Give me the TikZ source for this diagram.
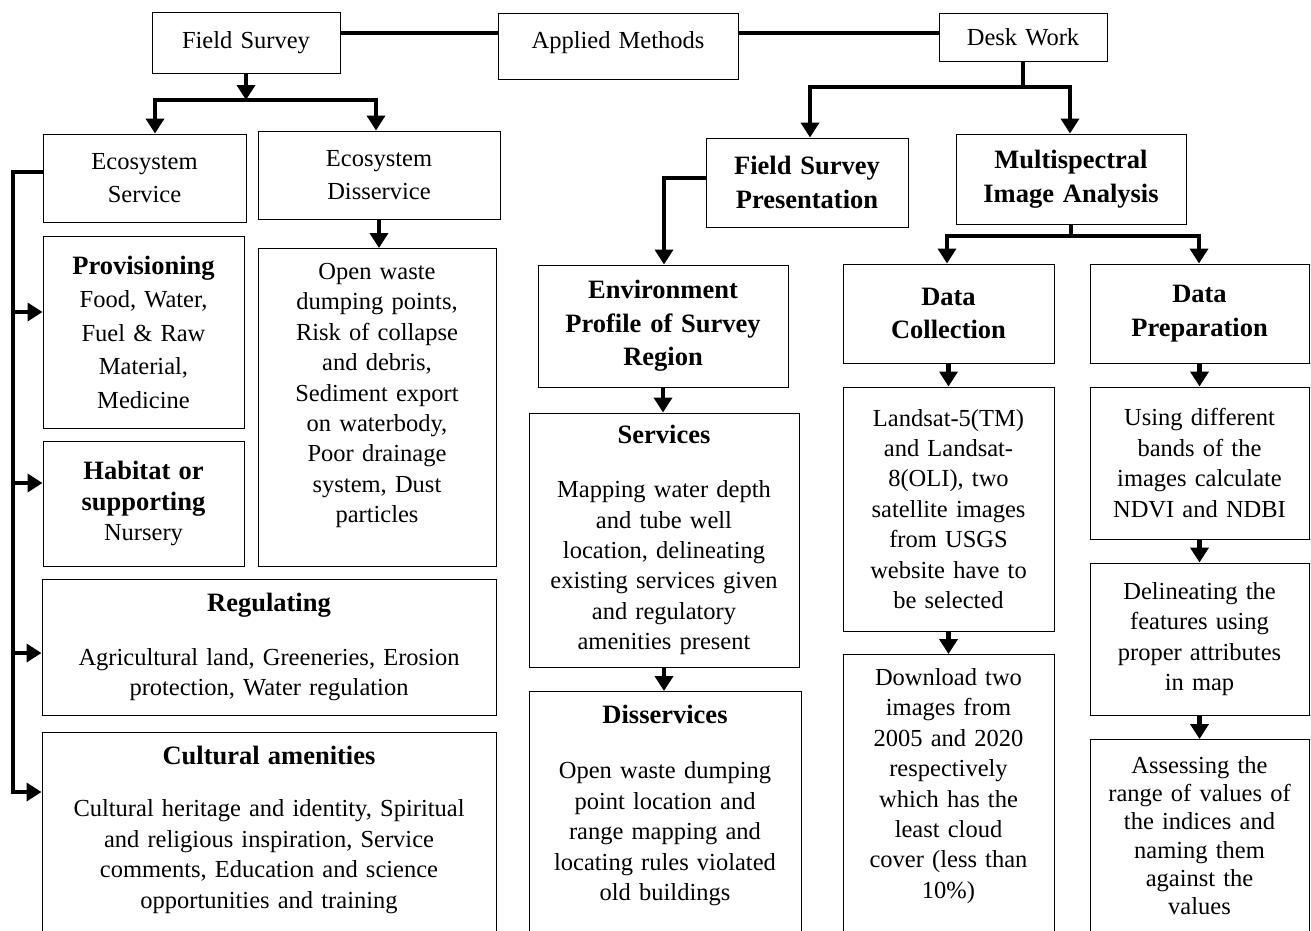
\documentclass[tikz,border=0pt]{standalone}
\usepackage{fontspec}
\setmainfont{Liberation Serif}
\usetikzlibrary{arrows.meta}

\newcommand\bodyfont{\fontsize{24.5}{30.4}\selectfont}
\newcommand\headfont{\fontsize{26.5}{33.5}\selectfont\bfseries}
\newcommand\boxhead[1]{{\fontsize{26.5}{30.4}\selectfont\bfseries #1}}

\begin{document}
\begin{tikzpicture}[x=1pt, y=-1pt,
    >={Triangle[length=15pt,width=18pt]},
    box/.style={draw, line width=1pt, align=center, inner xsep=0pt, inner ysep=0pt, font=\bodyfont},
    wd/.style={minimum width=#1, text width=#1},
    topbox/.style={box, anchor=north, text height=17pt},
    link/.style={line width=4.5pt}]

  \useasboundingbox (0,0) rectangle (1311,930);
  \clip (0,0) rectangle (1311,930);

  % top row
  \node[box, wd=188pt, minimum height=61pt] (fieldsurvey) at (246,42.5) {Field Survey};
  \node[box, wd=240pt, minimum height=66pt, text depth=12pt] (applied) at (618,46) {Applied Methods};
  \node[box, wd=168pt, minimum height=48pt] (desk) at (1023,37) {Desk Work};

  % field survey side
  \node[box, wd=203pt, minimum height=88pt, font=\fontsize{24.5}{33.5}\selectfont] (ecoserv) at (144.5,178) {Ecosystem\\Service};
  \node[box, wd=242pt, minimum height=88pt, font=\fontsize{24.5}{33.5}\selectfont] (ecodis) at (379,175) {Ecosystem\\Disservice};
  \node[box, wd=201pt, minimum height=192pt, font=\fontsize{24.5}{33.5}\selectfont] (prov) at (143.5,332)
    {\boxhead{Provisioning}\\Food, Water,\\Fuel \& Raw\\Material,\\Medicine};
  \node[box, wd=201pt, minimum height=125pt] (habitat) at (143.5,503.5)
    {\boxhead{Habitat or}\\\boxhead{supporting}\\Nursery};
  \node[topbox, wd=238pt, inner ysep=14pt, text depth=273pt] (disstext) at (377,248)
    {Open waste\\dumping points,\\Risk of collapse\\and debris,\\Sediment export\\on waterbody,\\Poor drainage\\system, Dust\\particles};
  \node[box, wd=454pt, minimum height=136pt] (regul) at (269,647)
    {\boxhead{Regulating}\\[23pt]Agricultural land, Greeneries, Erosion\\protection, Water regulation};
  \node[topbox, wd=454pt, inner ysep=15pt, text depth=300pt] (cultural) at (269,732)
    {\boxhead{Cultural amenities}\\[22pt]Cultural heritage and identity, Spiritual\\and religious inspiration, Service\\comments, Education and science\\opportunities and training};

  % desk work side
  \node[box, wd=202pt, minimum height=89pt, font=\headfont] (fsp) at (807,182.5) {Field Survey\\Presentation};
  \node[box, wd=230pt, minimum height=90pt, font=\headfont] (mia) at (1071,179) {Multispectral\\Image Analysis};
  \node[box, wd=250pt, minimum height=122pt, font=\headfont] (env) at (663,326) {Environment\\Profile of Survey\\Region};
  \node[box, wd=270pt, minimum height=254pt] (serv) at (664,540)
    {\boxhead{Services}\\[24pt]Mapping water depth\\and tube well\\location, delineating\\existing services given\\and regulatory\\amenities present};
  \node[topbox, wd=272pt, inner ysep=15pt, text depth=300pt] (disserv) at (665,691)
    {\boxhead{Disservices}\\[25pt]Open waste dumping\\point location and\\range mapping and\\locating rules violated\\old buildings};

  \node[box, wd=211pt, minimum height=99pt, font=\headfont] (dc) at (948.5,313.5) {Data\\Collection};
  \node[box, wd=211pt, minimum height=244pt] (dctext) at (948.5,509)
    {Landsat-5(TM)\\and Landsat-\\8(OLI), two\\satellite images\\from USGS\\website have to\\be selected};
  \node[topbox, wd=211pt, inner ysep=14pt, text depth=300pt] (dctext2) at (948.5,654)
    {Download two\\images from\\2005 and 2020\\respectively\\which has the\\least cloud\\cover (less than\\10\%)};

  \node[box, wd=219pt, minimum height=99pt, font=\headfont] (dp) at (1199.5,313.5) {Data\\Preparation};
  \node[box, wd=219pt, minimum height=152pt] (dptext) at (1199.5,463)
    {Using different\\bands of the\\images calculate\\NDVI and NDBI};
  \node[box, wd=219pt, minimum height=152pt] (dptext2) at (1199.5,639)
    {Delineating the\\features using\\proper attributes\\in map};
  \node[topbox, wd=219pt, inner ysep=17pt, text depth=300pt, font=\fontsize{24.5}{28.2}\selectfont] (dptext3) at (1199.5,739)
    {Assessing the\\range of values of\\the indices and\\naming them\\against the\\values};

  % connectors
  \coordinate (lvl) at (0,33);
  \draw[link] (fieldsurvey.east |- lvl) -- (applied.west |- lvl);
  \draw[link] (applied.east |- lvl) -- (desk.west |- lvl);

  \coordinate (fsbar) at (246,100);
  \coordinate (fsl) at (155,100);
  \coordinate (fsr) at (376,100);
  \draw[->, link] (fieldsurvey.south) -- (fsbar);
  \draw[<->, link] (fsl |- ecoserv.north) -- (fsl) -- (fsr) -- (fsr |- ecodis.north);

  \coordinate (bus) at (13,172);
  \coordinate (busend) at (13,792);
  \draw[->, link] (ecoserv.west |- bus) -- (bus) -- (busend) -- (busend -| cultural.west);
  \foreach \b/\yy in {prov/312, habitat/483, regul/653} {
    \coordinate (tap) at (13,\yy);
    \draw[->, link] (tap) -- (tap -| \b.west);
  }

  \coordinate (dwl) at (810,87);
  \coordinate (dwr) at (1070,87);
  \draw[link] (desk.south) -- (desk.south |- dwl);
  \draw[<->, link] (dwl |- fsp.north) -- (dwl) -- (dwr) -- (dwr |- mia.north);

  \coordinate (fspl) at (664,178);
  \draw[->, link] (fsp.west |- fspl) -- (fspl) -- (fspl |- env.north);

  \coordinate (mial) at (947,236);
  \coordinate (miar) at (1199,236);
  \draw[link] (mia.south) -- (mia.south |- mial);
  \draw[<->, link] (mial |- dc.north) -- (mial) -- (miar) -- (miar |- dp.north);

  \foreach \a/\b in {ecodis/disstext, env/serv, serv/disserv, dc/dctext, dctext/dctext2,
                     dp/dptext, dptext/dptext2, dptext2/dptext3}
    \draw[->, link] (\a.south) -- (\a.south |- \b.north);

\end{tikzpicture}
\end{document}
